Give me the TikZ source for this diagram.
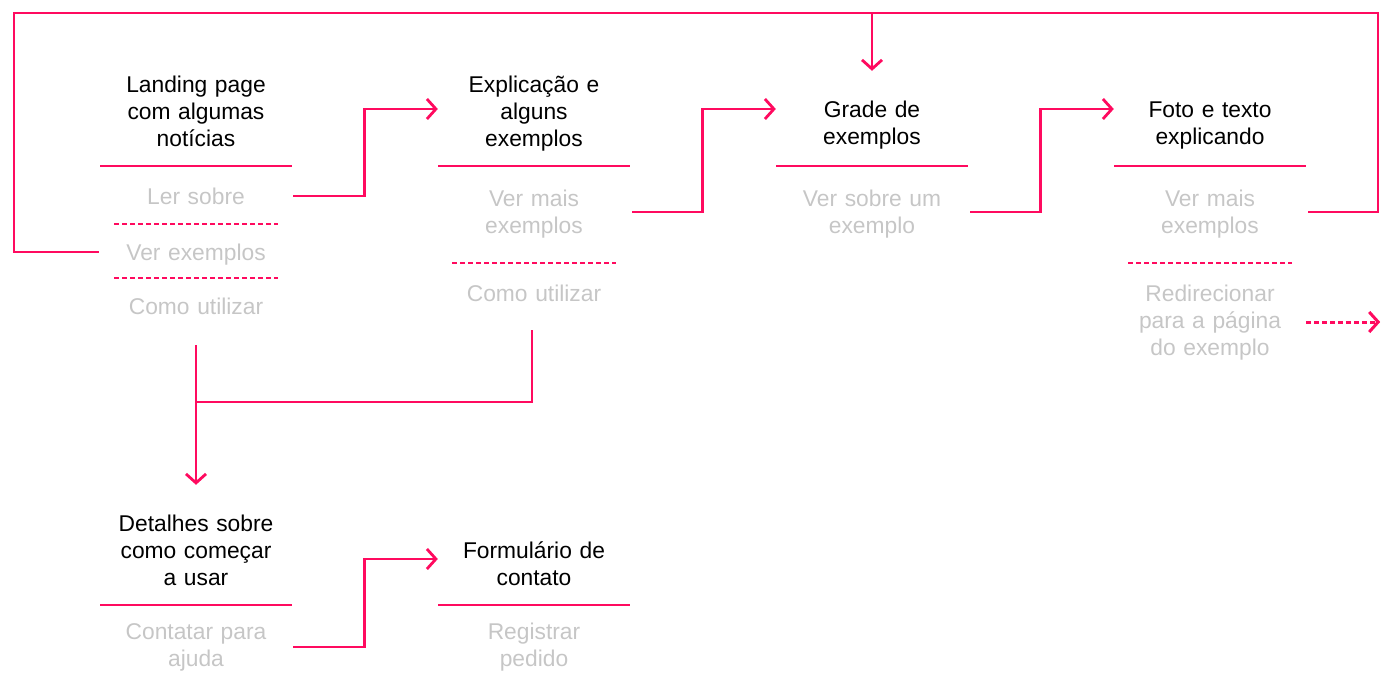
\documentclass[tikz,border=0pt]{standalone}
\usepackage{fontspec}
\setmainfont{Liberation Sans}
\usetikzlibrary{arrows.meta}
\definecolor{pink}{HTML}{FF0A5F}
\definecolor{lgray}{HTML}{C6C6C6}
\newcommand\topstrut{\rule{0pt}{21.9pt}}
\newcommand\botstrut{\rule[-5.1pt]{0pt}{5.1pt}}
\tikzset{
  txt/.style={inner sep=0pt, text width=192pt, align=center,
    font=\fontsize{22.8}{27}\selectfont,
    execute at begin node=\topstrut, execute at end node=\botstrut},
  title/.style={txt, text=black},
  item/.style={txt, text=lgray},
  divider/.style={draw=pink, line width=1.8pt},
  dashdiv/.style={draw=pink, line width=1.5pt, dash pattern=on 5pt off 3pt},
  conn/.style={draw=pink, line width=2.8pt, line join=miter},
  tip/.style={-{Straight Barb[length=9pt,width=20pt]}},
  dotconn/.style={draw=pink, line width=3pt, dash pattern=on 5pt off 3pt},
}
\begin{document}
\begin{tikzpicture}[x=1pt,y=-1pt]
\useasboundingbox (0,0) rectangle (1394,685);

% column 1
\node[title] (t1) at (196,111) {Landing page\\com algumas\\notícias};
\draw[divider] (100,166) -- (292,166);
\node[item] (i11) at (196,196) {Ler sobre};
\draw[dashdiv] (114,224) -- (278,224);
\node[item] (i12) at (196,252) {Ver exemplos};
\draw[dashdiv] (114,278) -- (278,278);
\node[item] (i13) at (196,306) {Como utilizar};

% column 2
\node[title] (t2) at (534,111) {Explicação e\\alguns\\exemplos};
\draw[divider] (438,166) -- (630,166);
\node[item] (i21) at (534,211.5) {Ver mais\\exemplos};
\draw[dashdiv] (452,263) -- (616,263);
\node[item] (i22) at (534,293) {Como utilizar};

% column 3
\node[title] (t3) at (872,122.5) {Grade de\\exemplos};
\draw[divider] (776,166) -- (968,166);
\node[item] (i31) at (872,211.5) {Ver sobre um\\exemplo};

% column 4
\node[title] (t4) at (1210,122.5) {Foto e texto\\explicando};
\draw[divider] (1114,166) -- (1306,166);
\node[item] (i41) at (1210,211.5) {Ver mais\\exemplos};
\draw[dashdiv] (1128,263) -- (1292,263);
\node[item] (i42) at (1210,320) {Redirecionar\\para a página\\do exemplo};

% bottom row
\node[title] (t5) at (196,550) {Detalhes sobre\\como começar\\a usar};
\draw[divider] (100,605) -- (292,605);
\node[item] (i51) at (196,644.5) {Contatar para\\ajuda};
\node[title] (t6) at (534,563.5) {Formulário de\\contato};
\draw[divider] (438,605) -- (630,605);
\node[item] (i61) at (534,644.5) {Registrar\\pedido};

% coordinates
\coordinate (topL) at (14,13);
\coordinate (topR) at (1378,13);
\coordinate (topM) at (872,13);
\coordinate (j) at (196,402);

% connectors
\draw[conn,tip] ([xshift=1pt]i11.east) -- ++(71,0) |- ([yshift=2pt]t2.west);
\draw[conn,tip] ([xshift=2pt,yshift=-0.5pt]i21.east) -- ++(70,0) |- ([yshift=13.5pt]t3.west);
\draw[conn,tip] ([xshift=2pt,yshift=-0.5pt]i31.east) -- ++(70,0) |- ([yshift=13.5pt]t4.west);
\draw[conn] ([xshift=2pt,yshift=-0.5pt]i41.east) -| (topR) -- (topL) |- ([xshift=-1pt]i12.west);
\draw[conn,tip] (topM) -- ([yshift=24.5pt]t3.north);
\draw[conn,tip] ([yshift=-25.5pt]i13.south) -- ([yshift=24.5pt]t5.north);
\draw[conn] ([xshift=-2pt,yshift=-23.5pt]i22.south) |- (j);
\draw[conn,tip] ([xshift=1pt,yshift=-2.5pt]i51.east) -- ++(71,0) |- ([yshift=4.5pt]t6.west);
\draw[dotconn,tip] ([yshift=-2pt]i42.east) -- ++(74,0);
\end{tikzpicture}
\end{document}
